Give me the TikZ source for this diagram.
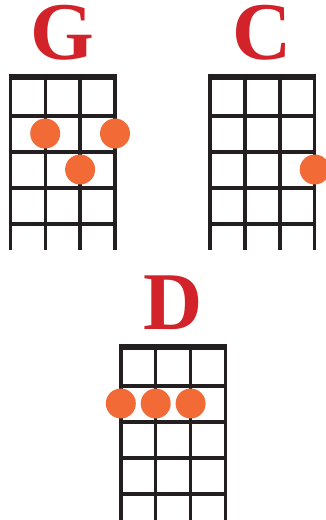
\documentclass[tikz,border=0pt]{standalone}
\usepackage{fontspec}
\setmainfont{Liberation Serif}

\definecolor{chordred}{HTML}{D2232A}
\definecolor{fingerdot}{HTML}{F26A36}
\definecolor{fretline}{HTML}{231F20}

\tikzset{
  chordname/.style={font=\fontsize{82}{82}\selectfont\bfseries, text=chordred, inner sep=0pt,
    text height=55pt, text depth=0pt, anchor=base},
  finger/.style={circle, fill=fingerdot, minimum size=30pt, inner sep=0pt},
  wire/.style={draw=fretline, line width=3.4pt},
}

\begin{document}
\begin{tikzpicture}[x=1pt, y=-1pt]
  %================= Parameters (edit these) =================
  \def\Sx{34.9}    % string spacing
  \def\Fy{36}      % fret spacing
  \def\Nut{6.5}    % nut thickness
  \def\Len{176.5}  % neck length, from top of nut
  \useasboundingbox (0,0) rectangle (326,520);

  %================= Chord grids =================
  % name / left string x / top of nut y
  \foreach \name/\lx/\ty in {G/10.3/73.5, C/210/73.5, D/120.8/343.5}{
    \fill[fretline] (\lx-1.7,\ty) rectangle (\lx+3*\Sx+1.7,\ty+\Nut);
    \foreach \k in {1,...,4}
      \draw[wire] (\lx-1.7,\ty+\Nut+\k*\Fy) -- (\lx+3*\Sx+1.7,\ty+\Nut+\k*\Fy);
    \foreach \s in {0,...,3}
      \draw[wire] (\lx+\s*\Sx,\ty) -- (\lx+\s*\Sx,\ty+\Len);
    % chord letter above the nut
    \node[chordname] (name\name) at (\lx+1.5*\Sx,\ty-14.5) {\name};
  }

  %================= Finger dots (string s, fret f) =================
  \foreach \id/\lx/\ty/\s/\f in {G1/10.3/73.5/1/2, G2/10.3/73.5/3/2, G3/10.3/73.5/2/3,
                                C1/210/73.5/3/3,
                                D1/120.8/343.5/0/2, D2/120.8/343.5/1/2, D3/120.8/343.5/2/2}{
    \pgfmathsetmacro{\dx}{\lx+\s*\Sx}
    \pgfmathsetmacro{\dy}{\ty+\Nut+(\f-0.5)*\Fy-0.5}
    \node[finger] (dot\id) at (\dx,\dy) {};
  }
\end{tikzpicture}
\end{document}
